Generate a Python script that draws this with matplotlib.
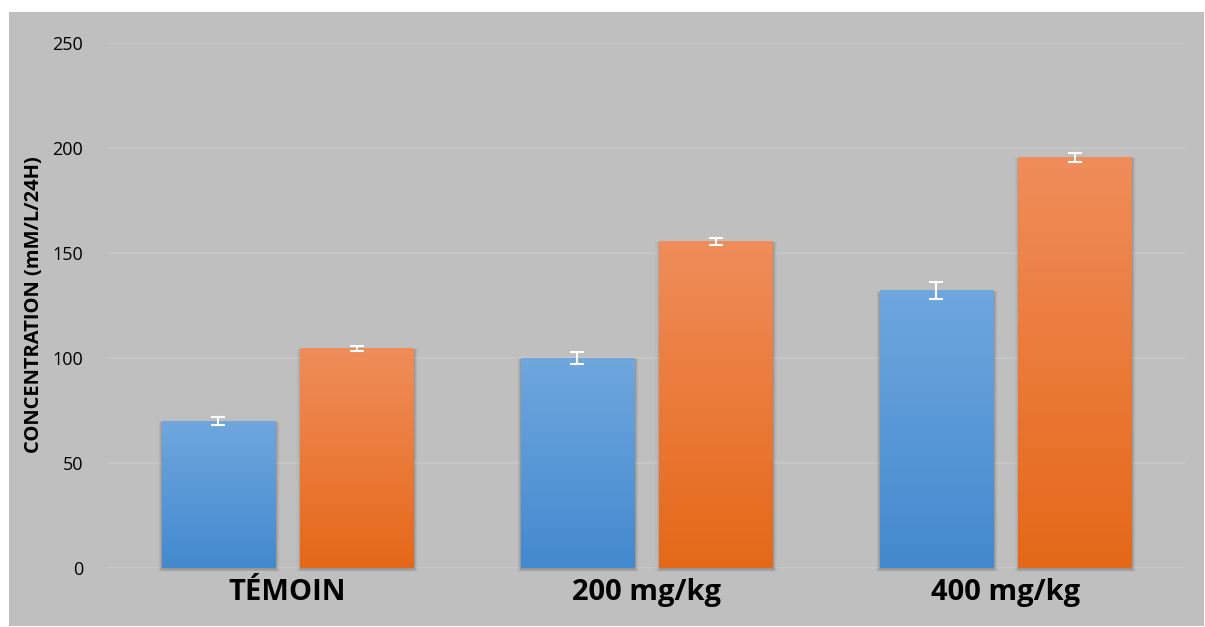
import numpy as np
import matplotlib
matplotlib.use('Agg')
from matplotlib import pyplot as plt
from matplotlib.colors import LinearSegmentedColormap
from matplotlib.patches import Rectangle

categories = ['TÉMOIN', '200 mg/kg', '400 mg/kg']
blue_values = [70, 100, 132]
blue_errors = [2, 3, 4]
orange_values = [104.5, 155.5, 195.5]
orange_errors = [1, 1.5, 2]
y_ticks = [0, 50, 100, 150, 200, 250]

plt.rcParams['font.family'] = ['Open Sans', 'DejaVu Sans']

fig = plt.figure(figsize=(12.05, 6.27), dpi=100)
fig.patch.set_facecolor('white')

# grey chart area behind everything
bg = fig.add_axes([9 / 1205, 1 - 626 / 627, 1195 / 1205, 614 / 627])
bg.set_facecolor('#bfbfbf')
bg.set_xticks([])
bg.set_yticks([])
for s in bg.spines.values():
    s.set_visible(False)
bg.set_zorder(0)

ax = fig.add_axes([108 / 1205, 1 - 568 / 627, 1077 / 1205, 525 / 627])
ax.set_zorder(1)
ax.set_facecolor('none')

blue_cmap = LinearSegmentedColormap.from_list('b', ['#4389cf', '#6fa7de'])
orange_cmap = LinearSegmentedColormap.from_list('o', ['#e56818', '#f08d5b'])
gradient = np.linspace(0, 1, 256).reshape(-1, 1)

x = np.arange(len(categories))
width = 0.315
offset = 0.1925


def draw_bars(positions, values, errors, cmap):
    bars = ax.bar(positions, values, width, color='none', zorder=3)
    for bar, pos, val in zip(bars, positions, values):
        # soft shadow all round, a bit stronger to the lower right
        for k, a in enumerate([0.09, 0.06, 0.035, 0.02]):
            grow = 0.003 * (k + 1)
            ax.add_patch(Rectangle((pos - width / 2 - grow + 0.002, -0.8 - k * 0.4),
                                   width + 2 * grow, val + 0.3 + k * 0.5,
                                   facecolor='black', alpha=a,
                                   edgecolor='none', zorder=2, clip_on=False))
        ax.imshow(gradient, cmap=cmap, origin='lower', aspect='auto',
                  extent=(pos - width / 2, pos + width / 2, 0, val),
                  zorder=3, clip_path=bar, clip_on=True)
    ax.errorbar(positions, values, yerr=errors, fmt='none', ecolor='white',
                elinewidth=1.5, capsize=5, capthick=1.5, zorder=4)


draw_bars(x - offset, blue_values, blue_errors, blue_cmap)
draw_bars(x + offset, orange_values, orange_errors, orange_cmap)
ax.set_xlim(-0.5, 2.5)
ax.set_ylim(0, 250)

ax.set_yticks(y_ticks)
ax.yaxis.grid(True, color='#c9c9c9', linewidth=1.2, zorder=1)
ax.set_axisbelow(True)
ax.tick_params(axis='y', length=0, pad=18, labelsize=13, labelcolor='black')
ax.set_xticks(x)
ax.set_xticklabels(categories, fontsize=21, fontweight='bold')
ax.tick_params(axis='x', length=0, pad=7)
for s in ax.spines.values():
    s.set_visible(False)

fig.text(34 / 1205, 1 - 305 / 627, 'CONCENTRATION (mM/L/24H)', rotation=90,
         fontsize=14.5, fontweight='bold', ha='center', va='center')

fig.savefig('out.png', dpi=100)
